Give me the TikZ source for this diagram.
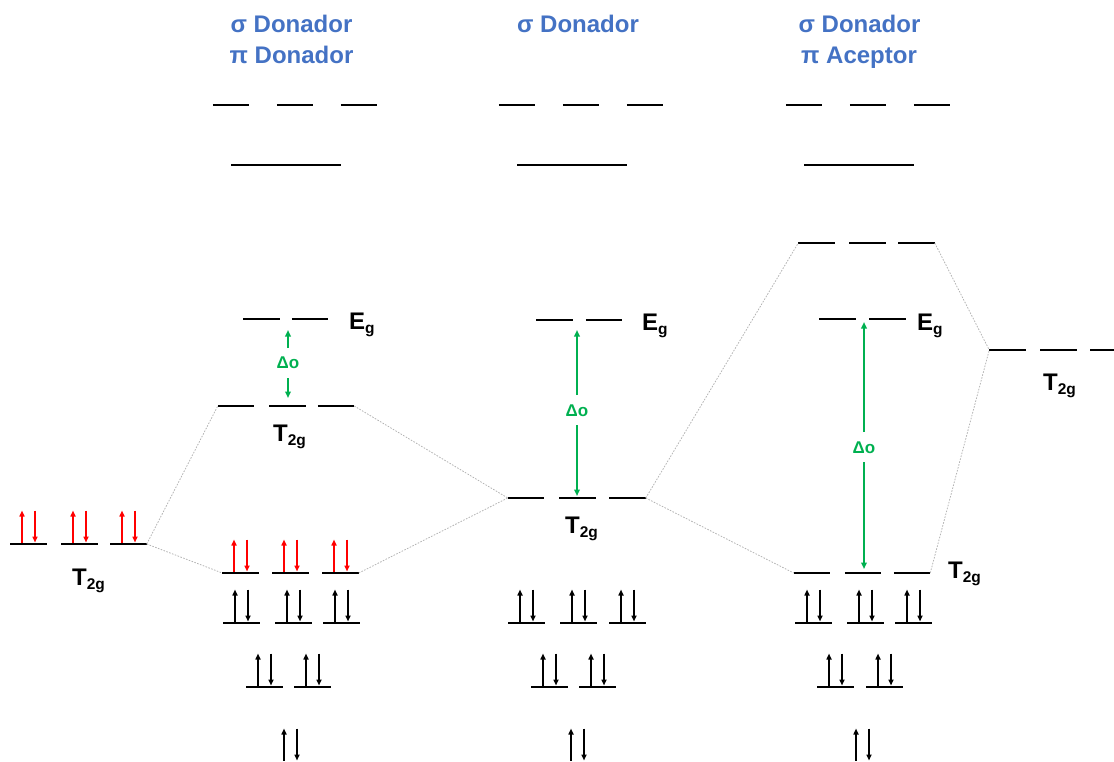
\documentclass[tikz,border=0pt]{standalone}
\usepackage{fontspec}
\setmainfont{Liberation Sans}
\usetikzlibrary{arrows.meta}

\definecolor{headblue}{HTML}{4472C4}
\definecolor{deltagreen}{HTML}{00B050}
\definecolor{spinred}{HTML}{FF0000}
\definecolor{corrgray}{HTML}{B4B4B4}

\tikzset{
  lvlline/.style={draw=black, line width=1.5pt},
  lvl/.style={minimum width=#1, minimum height=0pt, inner sep=0pt, outer sep=0pt,
    append after command={(\tikzlastnode.west) edge[lvlline] (\tikzlastnode.east)}},
  lvl/.default=36.5pt,
  corr/.style={draw=corrgray, line width=0.8pt, dash pattern=on 1.6pt off 1.4pt},
  spin/.style={line width=1.6pt, -{Triangle[length=6pt,width=5pt]}},
  gap/.style={draw=deltagreen, line width=1.8pt, -{Triangle[length=6.5pt,width=5.5pt]}},
  head/.style={text=headblue, font=\bfseries\fontsize{24}{24}\selectfont, anchor=base, inner sep=0pt},
  sym/.style={font=\bfseries\fontsize{24}{24}\selectfont, anchor=base west, inner sep=0pt},
  dlabel/.style={text=deltagreen, font=\bfseries\fontsize{17}{17}\selectfont, inner sep=0pt},
}

% term symbols with a lowered subscript
\newcommand\termsym[2]{#1\raisebox{-4.5pt}{\fontsize{15.5}{15.5}\selectfont #2}}

% a pair of paired electrons sitting on a level
\newcommand\spinpair[2][black]{%
  \draw[spin,#1] ([xshift=-6.5pt,yshift=1.5pt]#2.center) -- ([xshift=-6.5pt,yshift=33.5pt]#2.center);
  \draw[spin,#1] ([xshift=6.5pt,yshift=33.5pt]#2.center) -- ([xshift=6.5pt,yshift=1.5pt]#2.center);}

\begin{document}
\begin{tikzpicture}[x=1pt,y=-1pt]
\useasboundingbox (0,0) rectangle (1114,761);

% ---------- headers ----------
\node[head] (h1a) at (291.5,32) {σ Donador};
\node[head] (h1b) at (291.5,63) {π Donador};
\node[head] (h2a) at (578,32) {σ Donador};
\node[head] (h3a) at (859.5,32) {σ Donador};
\node[head] (h3b) at (859,63) {π Aceptor};

% ---------- free ion, left ----------
\node[lvl] (LT1) at (28.5,544) {};
\node[lvl] (LT2) at (79.5,544) {};
\node[lvl] (LT3) at (128.5,544) {};
\node[sym] (LTl) at (72,585) {\termsym{T}{2g}};

% ---------- sigma + pi donor complex ----------
\node[lvl] (AH1) at (231,105) {};
\node[lvl] (AH2) at (295,105) {};
\node[lvl] (AH3) at (359,105) {};
\node[lvl=110pt] (AS) at (286,165) {};
\node[lvl] (AE1) at (261.5,319) {};
\node[lvl] (AE2) at (310,319) {};
\node[sym] (AEl) at (349,329) {\termsym{E}{g}};
\node[lvl] (AT1) at (236,406) {};
\node[lvl] (AT2) at (287.5,406) {};
\node[lvl] (AT3) at (336,406) {};
\node[sym] (ATl) at (273,441) {\termsym{T}{2g}};
\node[lvl] (AL1) at (240.5,573) {};
\node[lvl] (AL2) at (290.5,573) {};
\node[lvl] (AL3) at (340.5,573) {};
\node[lvl] (AB1) at (241.5,623) {};
\node[lvl] (AB2) at (293.5,623) {};
\node[lvl] (AB3) at (341.5,623) {};
\node[lvl] (AP1) at (264.5,687) {};
\node[lvl] (AP2) at (312.5,687) {};
\coordinate (AZ) at (290.5,762);

% ---------- sigma donor complex ----------
\node[lvl] (BH1) at (517,105) {};
\node[lvl] (BH2) at (581,105) {};
\node[lvl] (BH3) at (645,105) {};
\node[lvl=110pt] (BS) at (572,165) {};
\node[lvl] (BE1) at (554.5,320) {};
\node[lvl] (BE2) at (604,320) {};
\node[sym] (BEl) at (642,330) {\termsym{E}{g}};
\node[lvl] (BT1) at (526,498) {};
\node[lvl] (BT2) at (577.5,498) {};
\node[lvl] (BT3) at (627.5,498) {};
\node[sym] (BTl) at (565,533) {\termsym{T}{2g}};
\node[lvl] (BB1) at (526.5,623) {};
\node[lvl] (BB2) at (578.5,623) {};
\node[lvl] (BB3) at (627.5,623) {};
\node[lvl] (BP1) at (549.5,687) {};
\node[lvl] (BP2) at (597.5,687) {};
\coordinate (BZ) at (577.5,762);

% ---------- sigma donor + pi acceptor complex ----------
\node[lvl] (CH1) at (804,105) {};
\node[lvl] (CH2) at (868,105) {};
\node[lvl] (CH3) at (932,105) {};
\node[lvl=110pt] (CS) at (859,165) {};
\node[lvl] (CU1) at (816.5,243) {};
\node[lvl] (CU2) at (867.5,243) {};
\node[lvl] (CU3) at (916.5,243) {};
\node[lvl] (CE1) at (837.5,319) {};
\node[lvl] (CE2) at (887.5,319) {};
\node[sym] (CEl) at (917,330) {\termsym{E}{g}};
\node[lvl] (CT1) at (812,573) {};
\node[lvl] (CT2) at (863,573) {};
\node[lvl] (CT3) at (912,573) {};
\node[sym] (CTl) at (948,578) {\termsym{T}{2g}};
\node[lvl] (CB1) at (813.5,623) {};
\node[lvl] (CB2) at (865.5,623) {};
\node[lvl] (CB3) at (913.5,623) {};
\node[lvl] (CP1) at (835.5,687) {};
\node[lvl] (CP2) at (884.5,687) {};
\coordinate (CZ) at (862.5,762);

% ---------- ligand pi* set, right ----------
\node[lvl] (RT1) at (1007.5,350) {};
\node[lvl] (RT2) at (1058.5,350) {};
\node[lvl=24pt] (RT3) at (1102,350) {};
\node[sym] (RTl) at (1043,390) {\termsym{T}{2g}};

% ---------- correlation lines ----------
\draw[corr] (LT3.east) -- (AT1.west);
\draw[corr] (LT3.east) -- (AL1.west);
\draw[corr] (AT3.east) -- (BT1.west);
\draw[corr] (AL3.east) -- (BT1.west);
\draw[corr] (BT3.east) -- (CU1.west);
\draw[corr] (BT3.east) -- (CT1.west);
\draw[corr] (CU3.east) -- (RT1.west);
\draw[corr] (CT3.east) -- (RT1.west);

% ---------- splitting arrows ----------
\node[dlabel] (D1) at (288,363) {Δo};
\coordinate (D1a) at (288,348);
\coordinate (D1b) at (288,330);
\coordinate (D1c) at (288,378);
\coordinate (D1d) at (288,398);
\draw[gap] (D1a) -- (D1b);
\draw[gap] (D1c) -- (D1d);

\node[dlabel] (D2) at (577,411) {Δo};
\coordinate (D2a) at (577,395);
\coordinate (D2b) at (577,330);
\coordinate (D2c) at (577,425);
\coordinate (D2d) at (577,496);
\draw[gap] (D2a) -- (D2b);
\draw[gap] (D2c) -- (D2d);

\node[dlabel] (D3) at (864,448) {Δo};
\coordinate (D3a) at (864,432);
\coordinate (D3b) at (864,322);
\coordinate (D3c) at (864,462);
\coordinate (D3d) at (864,569);
\draw[gap] (D3a) -- (D3b);
\draw[gap] (D3c) -- (D3d);

% ---------- electrons ----------
\spinpair[spinred]{LT1}\spinpair[spinred]{LT2}\spinpair[spinred]{LT3}

\spinpair[spinred]{AL1}\spinpair[spinred]{AL2}\spinpair[spinred]{AL3}
\spinpair{AB1}\spinpair{AB2}\spinpair{AB3}
\spinpair{AP1}\spinpair{AP2}
\spinpair{AZ}

\spinpair{BB1}\spinpair{BB2}\spinpair{BB3}
\spinpair{BP1}\spinpair{BP2}
\spinpair{BZ}

\spinpair{CB1}\spinpair{CB2}\spinpair{CB3}
\spinpair{CP1}\spinpair{CP2}
\spinpair{CZ}
\end{tikzpicture}
\end{document}
